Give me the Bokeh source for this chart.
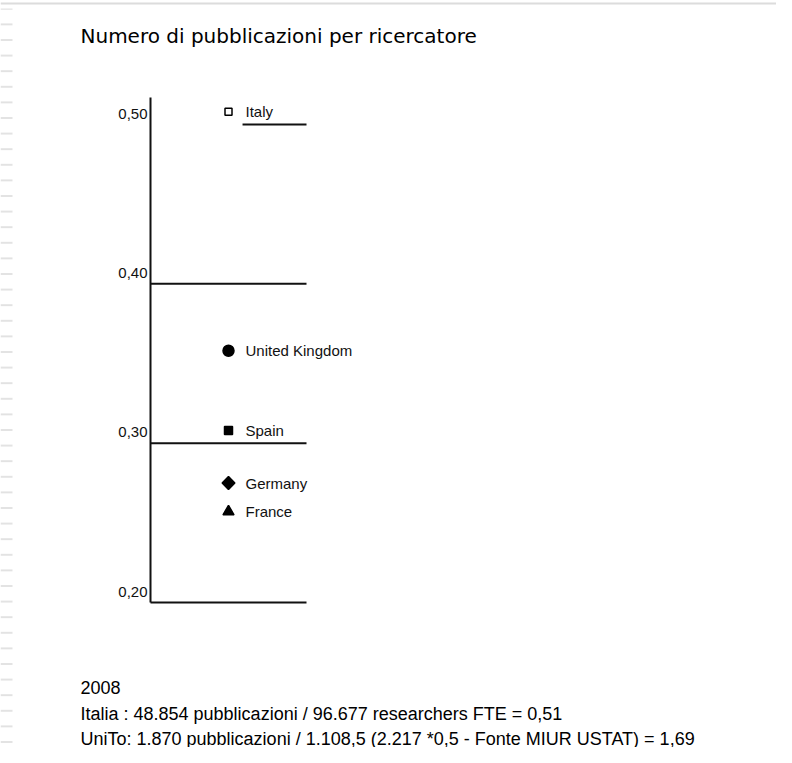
import math
from bokeh.plotting import figure
from bokeh.models import ColumnDataSource, Range1d, Label
from bokeh.core.properties import value
from bokeh.embed import file_html
from bokeh.resources import INLINE

# ---------------- data ----------------
TITLE = "Numero di pubblicazioni per ricercatore"
countries = ["Italy", "United Kingdom", "Spain", "Germany", "France"]
pubs_per_researcher = [0.508, 0.358, 0.308, 0.275, 0.257]
tick_values = [0.2, 0.3, 0.4, 0.5]
tick_labels = ["0,20", "0,30", "0,40", "0,50"]
notes = [
    "2008",
    "Italia : 48.854 pubblicazioni / 96.677 researchers FTE = 0,51",
    "UniTo: 1.870 pubblicazioni / 1.108,5 (2.217 *0,5 - Fonte MIUR USTAT) = 1,69",
]

# ---------------- layout / styles ----------------
marker_types = ["square", "circle", "square", "square", "triangle"]
marker_sizes = [7, 11, 8, 9, 11]
marker_angles = [0, 0, 0, math.pi / 4, 0]
marker_fill = ["white", "black", "black", "black", "black"]

W, H = 776, 747
PX_X = 156.0        # pixels per x unit (the single category slot is [-0.5, 0.5])
PX_Y = 1593.3       # pixels per y unit
AXIS_LEFT_PX = 150  # pixel position of the value axis
Y02_PX = 602        # pixel position of value 0.20
X_LO = -0.5 - AXIS_LEFT_PX / PX_X
X_HI = X_LO + W / PX_X
Y_LO = 0.2 - (H - Y02_PX) / PX_Y
Y_HI = Y_LO + H / PX_Y
AXIS_TOP = 0.517
LABEL_SHIFT = 11 / PX_Y
SLOT_L, SLOT_R = -0.5, 0.5
TOP_LINE_START = 0.09
INK = "#111111"

p = figure(width=W, height=H, output_backend="svg", toolbar_location=None,
           x_range=Range1d(X_LO, X_HI), y_range=Range1d(Y_LO, Y_HI),
           x_axis_location=None, y_axis_location=None,
           min_border=0, background_fill_color="white", border_fill_color="white")
p.outline_line_color = None
p.grid.visible = False

# slide decoration: thin top rule and striped left edge
p.quad(left=[X_LO], right=[X_HI], top=[Y_HI - 2 / PX_Y], bottom=[Y_HI - 4 / PX_Y],
       fill_color="#dcdcdc", line_color=None)
p.quad(left=[X_LO], right=[X_LO + 12 / PX_X], top=[Y_HI - 8 / PX_Y], bottom=[Y_LO],
       fill_color=None, line_color=None, hatch_pattern="horizontal_line",
       hatch_color="#dadada", hatch_scale=15.6, hatch_weight=1.5)

# value axis line
p.segment(x0=[SLOT_L], x1=[SLOT_L], y0=[min(tick_values)], y1=[AXIS_TOP],
          line_color=INK, line_width=2)

# reference lines
full = [v for v in tick_values if v < max(tick_values)]
p.segment(x0=[SLOT_L] * len(full), x1=[SLOT_R] * len(full), y0=full, y1=full,
          line_color=INK, line_width=2)
top = [max(tick_values)]
p.segment(x0=[TOP_LINE_START], x1=[SLOT_R], y0=top, y1=top,
          line_color=INK, line_width=2)

# tick labels, just above each reference line, right-aligned to the axis
p.text(x=[SLOT_L] * len(tick_values), y=[v + LABEL_SHIFT for v in tick_values],
       text=tick_labels, x_offset=-3, text_align="right", text_baseline="middle",
       text_font=value("Liberation Sans"), text_font_size="15px", text_color=INK)

src = ColumnDataSource(dict(
    x=[0] * len(countries), y=pubs_per_researcher, country=countries,
    marker=marker_types, size=marker_sizes, angle=marker_angles, fill=marker_fill))

p.scatter(x="x", y="y", marker="marker", size="size", angle="angle",
          fill_color="fill", line_color="black", line_width=1.5, source=src)

p.text(x="x", y="y", text="country", source=src, x_offset=17,
       text_baseline="middle", text_font=value("Liberation Sans"),
       text_font_size="15px", text_color=INK)

p.add_layout(Label(x=80, y=35, x_units="canvas", y_units="canvas", text=TITLE,
                   text_baseline="middle", text_font="DejaVu Sans",
                   text_font_size="20px", text_color="black"))

note_y = [687, 713, 738]
for t, yy in zip(notes, note_y):
    p.add_layout(Label(x=80, y=yy, x_units="canvas", y_units="canvas", text=t,
                       text_baseline="middle", text_font="Liberation Sans",
                       text_font_size="18px", text_color="black"))

open("out.html", "w").write(file_html(p, INLINE))
